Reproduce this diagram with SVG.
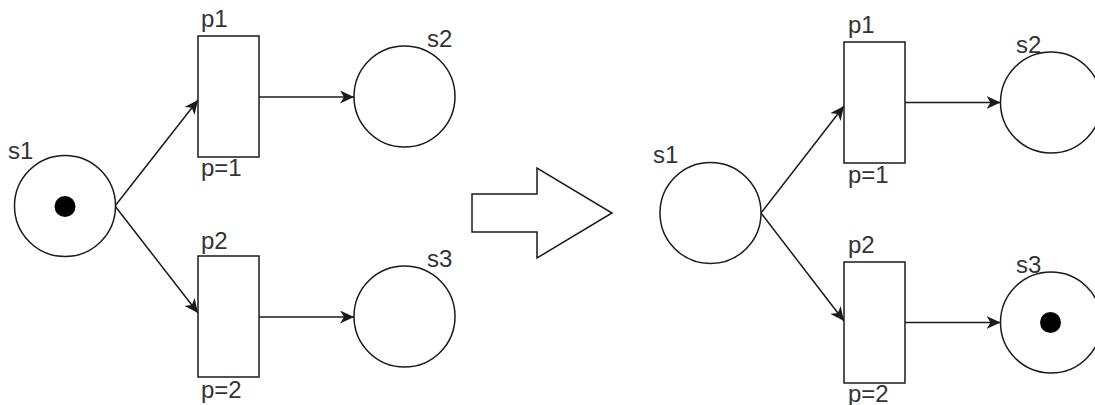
<svg xmlns="http://www.w3.org/2000/svg" width="1095" height="405" viewBox="0 0 1095 405">
<style>
.place{fill:#fff;stroke:#1a1a1a;stroke-width:1.5}
.trans{fill:#fff;stroke:#1a1a1a;stroke-width:1.5}
.tok{fill:#000}
.lbl{font-family:"Liberation Sans",Arial,sans-serif;font-size:24px;fill:#333}
.edge{fill:none;stroke:#1a1a1a;stroke-width:1.5;marker-end:url(#ah)}
</style>
<defs>
<marker id="ah" markerUnits="userSpaceOnUse" markerWidth="15" markerHeight="13" viewBox="0 0 15 13" refX="14" refY="6.5" orient="auto">
<path d="M0,0 L14,6.5 L0,13 L4,6.5 z" fill="#1a1a1a"/>
</marker>
</defs>
<rect width="1095" height="405" fill="#fff"/>
<g id="connectors">
<line class="edge" x1="115" y1="206" x2="198" y2="100"/>
<line class="edge" x1="115" y1="206" x2="198" y2="313"/>
<line class="edge" x1="259" y1="97" x2="354" y2="97"/>
<line class="edge" x1="259" y1="317" x2="354" y2="317"/>
<line class="edge" x1="761" y1="213" x2="844" y2="106"/>
<line class="edge" x1="761" y1="213" x2="844" y2="321"/>
<line class="edge" x1="905" y1="102.5" x2="1000.5" y2="102.5"/>
<line class="edge" x1="905" y1="322.5" x2="1000.5" y2="322.5"/>
</g>
<g id="L_s1"><circle class="place" cx="65" cy="206" r="50.5"/><circle class="tok" cx="65" cy="206.5" r="10.5"/><text class="lbl" x="8" y="159">s1</text></g>
<g id="L_p1"><rect class="trans" x="198" y="36" width="61" height="121"/><text class="lbl" x="201" y="27">p1</text><text class="lbl" x="201" y="176">p=1</text></g>
<g id="L_p2"><rect class="trans" x="198" y="256" width="61" height="121"/><text class="lbl" x="201" y="249">p2</text><text class="lbl" x="201" y="398">p=2</text></g>
<g id="L_s2"><circle class="place" cx="404.5" cy="96.5" r="50.5"/><text class="lbl" x="427" y="47">s2</text></g>
<g id="L_s3"><circle class="place" cx="404.5" cy="316.5" r="50.5"/><text class="lbl" x="427" y="267">s3</text></g>
<g id="bigArrow"><polygon points="472,194 537,194 537,168 612,213 537,258 537,232 472,232" fill="#fff" stroke="#1a1a1a" stroke-width="1.5"/></g>
<g id="R_s1"><circle class="place" cx="710.5" cy="213" r="50.5"/><text class="lbl" x="653" y="163">s1</text></g>
<g id="R_p1"><rect class="trans" x="844" y="42" width="61" height="121"/><text class="lbl" x="848" y="33">p1</text><text class="lbl" x="848" y="183">p=1</text></g>
<g id="R_p2"><rect class="trans" x="844" y="262" width="61" height="121"/><text class="lbl" x="848" y="253">p2</text><text class="lbl" x="848" y="402">p=2</text></g>
<g id="R_s2"><circle class="place" cx="1051" cy="102.5" r="50.5"/><text class="lbl" x="1016" y="53">s2</text></g>
<g id="R_s3"><circle class="place" cx="1051" cy="322.5" r="50.5"/><circle class="tok" cx="1050.5" cy="322.5" r="10.5"/><text class="lbl" x="1016" y="273">s3</text></g>
</svg>
